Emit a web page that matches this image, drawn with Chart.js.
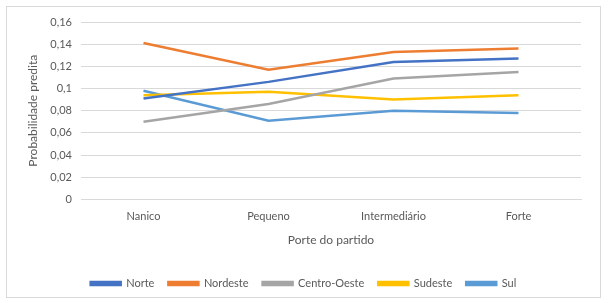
<!DOCTYPE html>
<html>
<head>
<meta charset="utf-8">
<script src="https://cdn.jsdelivr.net/npm/chart.js@4"></script>
<style>
  html, body { margin: 0; padding: 0; background: #ffffff; }
  #wrap { position: relative; width: 609px; height: 303px; }
  #frame { position: absolute; left: 6px; top: 6px; width: 593px; height: 290px; border: 1px solid #d9d9d9; pointer-events: none; }
  canvas { position: absolute; left: 0; top: 0; }
</style>
</head>
<body>
<div id="wrap">
  <canvas id="c" width="609" height="303"></canvas>
  <div id="frame"></div>
</div>
<script>
const categories = ["Nanico", "Pequeno", "Intermediário", "Forte"];
const norte = [0.091, 0.106, 0.124, 0.127];
const nordeste = [0.141, 0.117, 0.133, 0.136];
const centroOeste = [0.070, 0.086, 0.109, 0.115];
const sudeste = [0.094, 0.097, 0.090, 0.094];
const sul = [0.098, 0.071, 0.080, 0.078];
const yTickLabels = ["0", "0,02", "0,04", "0,06", "0,08", "0,1", "0,12", "0,14", "0,16"];

const seriesNames = ["Norte", "Nordeste", "Centro-Oeste", "Sudeste", "Sul"];
const seriesData = [norte, nordeste, centroOeste, sudeste, sul];
const seriesColors = ["#4472C4", "#ED7D31", "#A5A5A5", "#FFC000", "#5B9BD5"];

const FONT = "Lato, 'Open Sans', sans-serif";
const TXT = "#595959";

new Chart(document.getElementById("c"), {
  type: "line",
  data: {
    labels: categories,
    datasets: seriesNames.map((n, i) => ({
      label: n,
      data: seriesData[i],
      borderColor: seriesColors[i],
      backgroundColor: seriesColors[i],
      borderWidth: 2.5,
      pointRadius: 0,
      tension: 0,
      fill: false
    }))
  },
  options: {
    responsive: false,
    animation: false,
    devicePixelRatio: 1,
    layout: { padding: { left: 26, right: 28, top: 22, bottom: 4 } },
    plugins: {
      tooltip: { enabled: false },
      legend: {
        position: "bottom",
        labels: {
          boxWidth: 30,
          boxHeight: 3,
          padding: 14,
          color: TXT,
          font: { family: FONT, size: 11 }
        }
      }
    },
    scales: {
      x: {
        offset: true,
        grid: { display: false, drawTicks: false },
        border: { display: true, color: "#d9d9d9" },
        ticks: { color: TXT, font: { family: FONT, size: 11 }, padding: 10 },
        title: { display: true, text: "Porte do partido", color: TXT, font: { family: FONT, size: 12 }, padding: { top: 0, bottom: 17 } }
      },
      y: {
        min: 0,
        max: 0.16,
        grid: { color: "#d9d9d9", drawTicks: false },
        border: { display: false },
        ticks: {
          stepSize: 0.02,
          color: TXT,
          font: { family: FONT, size: 11 },
          padding: 9,
          callback: (v, i) => yTickLabels[i]
        },
        title: { display: true, text: "Probabilidade predita", color: TXT, font: { family: FONT, size: 12 }, padding: { top: 0, bottom: 4 } },
        afterFit: (s) => { s.width = 55; }
      }
    }
  }
});
</script>
</body>
</html>
